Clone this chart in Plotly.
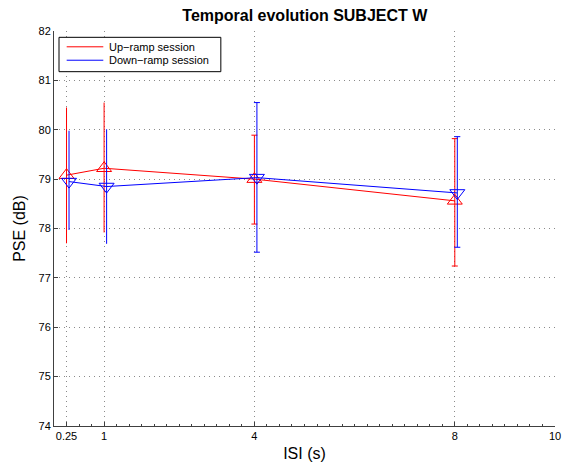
import plotly.graph_objects as go

# ---- data ----
isi = [0.25, 1, 4, 8]
up_mean = [79.08, 79.22, 79.00, 78.56]
up_upper = [80.45, 80.55, 79.89, 79.82]
up_lower = [77.70, 77.92, 78.09, 77.24]

down_mean = [78.95, 78.85, 79.03, 78.72]
down_upper = [79.98, 80.01, 80.55, 79.86]
down_lower = [77.97, 77.69, 77.52, 77.62]

x_tickvals = [0.25, 1, 4, 8, 10]
x_ticktext = ["0.25", "1", "4", "8", "10"]
y_tickvals = [74, 75, 76, 77, 78, 79, 80, 81, 82]

series_names = ["Up\u2212ramp session", "Down\u2212ramp session"]
series_colors = ["#ff0000", "#0000ff"]

DOWN_SHIFT = 0.05  # small horizontal offset used in the original for the blue series
FONT = "Liberation Sans, Arial, Helvetica, sans-serif"

fig = go.Figure()


def add_series(xs, mean, upper, lower, color, symbol, name):
    plus = [u - m for u, m in zip(upper, mean)]
    minus = [m - l for m, l in zip(mean, lower)]
    # error bars: first two points without caps, last two with caps
    for idx, w in (([0, 1], 0), ([2, 3], 3)):
        fig.add_trace(go.Scatter(
            x=[xs[i] for i in idx], y=[mean[i] for i in idx], mode="markers",
            marker=dict(size=0.1, color=color, opacity=0),
            error_y=dict(type="data", symmetric=False,
                         array=[plus[i] for i in idx],
                         arrayminus=[minus[i] for i in idx],
                         color=color, thickness=1, width=w),
            showlegend=False, hoverinfo="skip"))
    fig.add_trace(go.Scatter(
        x=xs, y=mean, mode="lines+markers", name=name, showlegend=False,
        line=dict(color=color, width=1),
        marker=dict(symbol=symbol, size=13, color=color,
                    line=dict(color=color, width=1))))


add_series(isi, up_mean, up_upper, up_lower, series_colors[0], "triangle-up-open", series_names[0])
add_series([v + DOWN_SHIFT for v in isi], down_mean, down_upper, down_lower,
           series_colors[1], "triangle-down-open", series_names[1])

# ---- legend drawn as a boxed key (MATLAB style) ----
box = dict(x0=0.010, x1=0.333, y0=0.897, y1=0.984)
fig.add_shape(type="rect", xref="paper", yref="paper", **box,
              line=dict(color="black", width=1), fillcolor="white", layer="above")
legend_rows = [0.960, 0.926]
for name, color, yrow in zip(series_names, series_colors, legend_rows):
    fig.add_shape(type="line", xref="paper", yref="paper",
                  x0=0.0253, x1=0.0984, y0=yrow, y1=yrow,
                  line=dict(color=color, width=1), layer="above")
    fig.add_annotation(xref="paper", yref="paper", x=0.105, y=yrow,
                       xanchor="left", yanchor="middle", text=name, showarrow=False,
                       font=dict(size=11, family=FONT, color="black"))

axis_common = dict(
    showline=True, linecolor="#404040", linewidth=1,
    ticks="inside", ticklen=4, tickcolor="#404040",
    showgrid=True, gridcolor="#8a8a8a", griddash="1px,4px", gridwidth=1,
    zeroline=False, mirror=False,
    tickfont=dict(family=FONT, size=11, color="black"),
)

fig.update_layout(
    width=573, height=471,
    margin=dict(l=54, r=18, t=31, b=43),
    paper_bgcolor="white", plot_bgcolor="white",
    font=dict(family=FONT, color="black"),
    title=dict(text="<b>Temporal evolution SUBJECT W</b>", x=0.532, xanchor="center",
               y=1 - 15 / 471, yanchor="middle", yref="container",
               font=dict(size=16, family=FONT, color="black")),
    xaxis=dict(range=[0, 10], tickvals=x_tickvals, ticktext=x_ticktext,
               title=dict(text="ISI (s)", font=dict(size=16, family=FONT), standoff=6),
               minor=dict(ticks="inside", ticklen=2, dtick=0.25, tickcolor="#404040",
                          showgrid=False),
               **axis_common),
    yaxis=dict(range=[74, 82], tickvals=y_tickvals,
               title=dict(text="PSE (dB)", font=dict(size=16, family=FONT), standoff=8),
               **axis_common),
    showlegend=False,
)

fig.write_html("out.html")
